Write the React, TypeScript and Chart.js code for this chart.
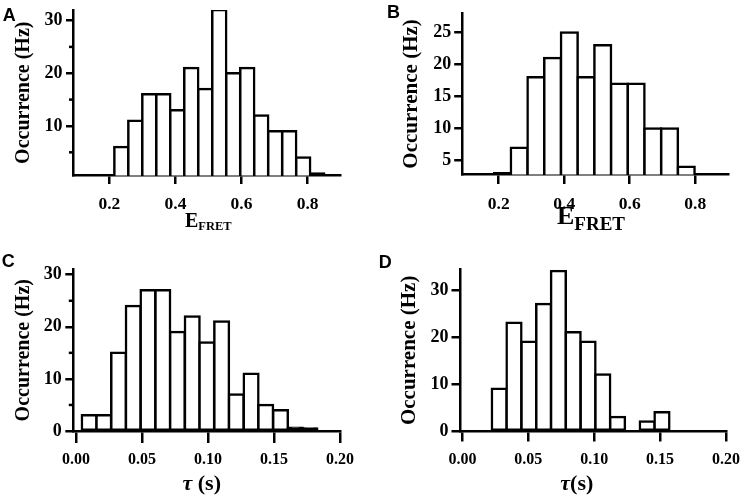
import { useEffect, useRef } from "react";
import { Chart, registerables } from "chart.js";

Chart.register(...registerables);

// ---------------- Data ----------------
// Panel A: E_FRET histogram
const binCentersA = [0.2362, 0.2785, 0.3208, 0.3632, 0.4055, 0.4478, 0.4902, 0.5325, 0.5748, 0.6172, 0.6595, 0.7018, 0.7442, 0.7865, 0.8288];
const occurrenceA = [6, 11, 16, 16, 13, 21, 17, 32, 20, 21, 12, 9, 9, 4, 1];
const xTicksA = [0.2, 0.4, 0.6, 0.8];
const yTicksA = [10, 20, 30];
const yMinorA = [5, 15, 25];

// Panel B: E_FRET histogram
const binCentersB = [0.2115, 0.2625, 0.3135, 0.3645, 0.4155, 0.4665, 0.5175, 0.5685, 0.6195, 0.6705, 0.7215, 0.7725];
const occurrenceB = [3, 7, 18, 21, 25, 18, 23, 17, 17, 10, 10, 4];
const xTicksB = [0.2, 0.4, 0.6, 0.8];
const yTicksB = [5, 10, 15, 20, 25];
const yMinorB: number[] = [];

// Panel C: dwell time histogram
const binCentersC = [0.0099, 0.021, 0.0322, 0.0433, 0.0545, 0.0657, 0.0768, 0.088, 0.0991, 0.1103, 0.1214, 0.1326, 0.1437, 0.1549, 0.1661, 0.1772];
const occurrenceC = [3, 3, 15, 24, 27, 27, 19, 22, 17, 21, 7, 11, 5, 4, 0.6, 0.5];
const xTicksC = [0, 0.05, 0.1, 0.15, 0.2];
const yTicksC = [0, 10, 20, 30];
const yMinorC = [5, 15, 25];

// Panel D: dwell time histogram
const binCentersD = [0.0279, 0.0391, 0.0504, 0.0616, 0.0728, 0.084, 0.0953, 0.1065, 0.1177, 0.1289, 0.1402, 0.1514];
const occurrenceD = [9, 23, 19, 27, 34, 21, 19, 12, 3, 0, 2, 4];
const xTicksD = [0, 0.05, 0.1, 0.15, 0.2];
const yTicksD = [0, 10, 20, 30];
const yMinorD: number[] = [];

const yTitle = "Occurrence (Hz)";

// ---------------- Styling / layout ----------------
const SERIF = "'Liberation Serif', 'Times New Roman', Times, serif";
const SANS = "'Liberation Sans', Arial, Helvetica, sans-serif";
const W = 372;
const H = 248;

type Seg = { text: string; font: string; baseline: number };

interface PanelSpec {
  id: string;
  letter: string;
  letterX: number;
  letterY: number;
  pageX: number;
  pageY: number;
  centers: number[];
  values: number[];
  xTicks: number[];
  yTicks: number[];
  yMinor: number[];
  xMin: number;
  xMax: number;
  yMin: number;
  yMax: number;
  xDecimals: number;
  area: { l: number; t: number; r: number; b: number };
  xTickLen: number;
  yTickLen: number;
  xTickPad: number;
  yTickPad: number;
  xTickFont: number;
  yTickFont: number;
  yTitleFont: number;
  yTitlePad: number;
  xTitleX: number;
  xTitle: Seg[];
}

const panels: PanelSpec[] = [
  {
    id: "A", letter: "A", letterX: 2.7, letterY: 20.7, pageX: 0, pageY: 0,
    centers: binCentersA, values: occurrenceA, xTicks: xTicksA, yTicks: yTicksA, yMinor: yMinorA,
    xMin: 0.09, xMax: 0.9, yMin: 0.6, yMax: 32, xDecimals: 1,
    area: { l: 73, t: 10, r: 340.7, b: 175.5 },
    xTickLen: 8.5, yTickLen: 7, xTickPad: 10.3, yTickPad: 3.5, xTickFont: 17.5, yTickFont: 18,
    yTitleFont: 20, yTitlePad: 11.5,
    xTitleX: 185,
    xTitle: [
      { text: "E", font: `bold 20px ${SERIF}`, baseline: 226.7 },
      { text: "FRET", font: `bold 12.5px ${SERIF}`, baseline: 230 },
    ],
  },
  {
    id: "B", letter: "B", letterX: 15, letterY: 18.3, pageX: 372, pageY: 0,
    centers: binCentersB, values: occurrenceB, xTicks: xTicksB, yTicks: yTicksB, yMinor: yMinorB,
    xMin: 0.09, xMax: 0.9, yMin: 2.8, yMax: 28, xDecimals: 1,
    area: { l: 90.7, t: 13.3, r: 356, b: 174.5 },
    xTickLen: 9.5, yTickLen: 8.5, xTickPad: 10.3, yTickPad: 3, xTickFont: 17.5, yTickFont: 18,
    yTitleFont: 21, yTitlePad: 27.4,
    xTitleX: 185,
    xTitle: [
      { text: "E", font: `bold 26px ${SERIF}`, baseline: 224 },
      { text: "FRET", font: `bold 19px ${SERIF}`, baseline: 230 },
    ],
  },
  {
    id: "C", letter: "C", letterX: 1.7, letterY: 19.3, pageX: 0, pageY: 248,
    centers: binCentersC, values: occurrenceC, xTicks: xTicksC, yTicks: yTicksC, yMinor: yMinorC,
    xMin: -0.0025, xMax: 0.2, yMin: 0, yMax: 31, xDecimals: 2,
    area: { l: 72.8, t: 21.5, r: 340, b: 183 },
    xTickLen: 12, yTickLen: 7.5, xTickPad: 7.1, yTickPad: 3.5, xTickFont: 16, yTickFont: 18,
    yTitleFont: 20, yTitlePad: 11.5,
    xTitleX: 182.5,
    xTitle: [
      { text: "\u03C4", font: `italic bold 22px ${SERIF}`, baseline: 241.5 },
      { text: " (s)", font: `bold 22px ${SERIF}`, baseline: 241.5 },
    ],
  },
  {
    id: "D", letter: "D", letterX: 6.7, letterY: 20, pageX: 372, pageY: 248,
    centers: binCentersD, values: occurrenceD, xTicks: xTicksD, yTicks: yTicksD, yMinor: yMinorD,
    xMin: -0.0015, xMax: 0.2, yMin: 0, yMax: 34.3, xDecimals: 2,
    area: { l: 88.5, t: 21.7, r: 354, b: 183 },
    xTickLen: 10.5, yTickLen: 9, xTickPad: 8.6, yTickPad: 3, xTickFont: 16, yTickFont: 18,
    yTitleFont: 21, yTitlePad: 24.9,
    xTitleX: 188.3,
    xTitle: [
      { text: "\u03C4", font: `italic bold 22px ${SERIF}`, baseline: 241.5 },
      { text: "(s)", font: `bold 22px ${SERIF}`, baseline: 241.5 },
    ],
  },
];

function decorPlugin(spec: PanelSpec) {
  return {
    id: "decor" + spec.id,
    afterDraw(chart: any) {
      const ctx: CanvasRenderingContext2D = chart.ctx;
      const yScale = chart.scales.y;
      const left = chart.chartArea.left;
      ctx.save();
      ctx.strokeStyle = "#000";
      ctx.lineWidth = 2.5;
      for (const v of spec.yMinor) {
        const py = yScale.getPixelForValue(v);
        ctx.beginPath();
        ctx.moveTo(left - 4, py);
        ctx.lineTo(left, py);
        ctx.stroke();
      }
      ctx.fillStyle = "#000";
      ctx.textAlign = "left";
      ctx.textBaseline = "alphabetic";
      let x = spec.xTitleX;
      for (const seg of spec.xTitle) {
        ctx.font = seg.font;
        ctx.fillText(seg.text, x, seg.baseline);
        x += ctx.measureText(seg.text).width;
      }
      ctx.font = `bold 18px ${SANS}`;
      ctx.fillText(spec.letter, spec.letterX, spec.letterY);
      ctx.restore();
    },
  };
}

function Panel({ spec }: { spec: PanelSpec }) {
  const ref = useRef<HTMLCanvasElement | null>(null);
  useEffect(() => {
    if (!ref.current) return;
    const a = spec.area;
    const chart = new Chart(ref.current, {
      type: "bar",
      data: {
        datasets: [
          {
            data: spec.centers.map((c, i) => ({ x: c, y: spec.values[i] })),
            // very short bars collapse into a solid black strip, as in the reference
            backgroundColor: (c: any) => (c.raw && c.raw.y - spec.yMin < 1.2 ? "#000000" : "#ffffff"),
            borderColor: "#000000",
            borderWidth: 2.5,
            borderSkipped: false,
            inflateAmount: 1.25,
            barPercentage: 1,
            categoryPercentage: 1,
          } as any,
        ],
      },
      options: {
        responsive: false,
        maintainAspectRatio: false,
        animation: false,
        devicePixelRatio: 1,
        events: [],
        layout: { padding: { left: 0, top: a.t, right: W - a.r, bottom: 0 } },
        plugins: { legend: { display: false }, tooltip: { enabled: false } },
        scales: {
          x: {
            type: "linear",
            min: spec.xMin,
            max: spec.xMax,
            offset: false,
            grid: {
              offset: false,
              drawOnChartArea: false,
              drawTicks: true,
              tickLength: spec.xTickLen,
              color: "#000",
              lineWidth: 2.5,
            },
            border: { display: true, color: "#000", width: 2.5 },
            ticks: {
              autoSkip: false,
              maxRotation: 0,
              padding: spec.xTickPad,
              color: "#000",
              font: { family: SERIF, size: spec.xTickFont, weight: "bold" },
              callback: (v: any) => Number(v).toFixed(spec.xDecimals),
            },
            afterBuildTicks: (s: any) => {
              s.ticks = spec.xTicks.map((v) => ({ value: v }));
            },
            afterFit: (s: any) => {
              s.height = H - a.b;
              s.paddingLeft = 0;
              s.paddingRight = 0;
              s.paddingTop = 0;
              s.paddingBottom = 0;
            },
          },
          y: {
            type: "linear",
            min: spec.yMin,
            max: spec.yMax,
            grid: {
              drawOnChartArea: false,
              drawTicks: true,
              tickLength: spec.yTickLen,
              color: "#000",
              lineWidth: 2.5,
            },
            border: { display: true, color: "#000", width: 2.5 },
            ticks: {
              autoSkip: false,
              padding: spec.yTickPad,
              color: "#000",
              font: { family: SERIF, size: spec.yTickFont, weight: "bold" },
              callback: (v: any) => String(v),
            },
            title: {
              display: true,
              text: yTitle,
              color: "#000",
              font: { family: SERIF, size: spec.yTitleFont, weight: "bold" },
              padding: { top: spec.yTitlePad, bottom: 0 },
            },
            afterBuildTicks: (s: any) => {
              s.ticks = spec.yTicks.map((v) => ({ value: v }));
            },
            afterFit: (s: any) => {
              s.width = a.l;
              s.paddingLeft = 0;
              s.paddingRight = 0;
              s.paddingTop = 0;
              s.paddingBottom = 0;
            },
          },
        },
      } as any,
      plugins: [decorPlugin(spec)],
    });
    return () => chart.destroy();
  }, [spec]);
  return (
    <canvas
      ref={ref}
      width={W}
      height={H}
      style={{ position: "absolute", left: spec.pageX, top: spec.pageY, width: W, height: H, display: "block" }}
    />
  );
}

export default function App() {
  return (
    <div style={{ position: "fixed", left: 0, top: 0, width: 744, height: 497, background: "#fff", overflow: "hidden" }}>
      {panels.map((p) => (
        <Panel key={p.id} spec={p} />
      ))}
    </div>
  );
}
